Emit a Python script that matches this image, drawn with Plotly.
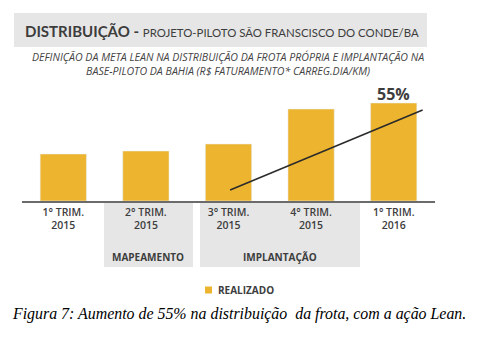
import plotly.graph_objects as go

# ---- data ----
categories = ["1° TRIM.<br>2015", "2° TRIM.<br>2015", "3° TRIM.<br>2015", "4° TRIM.<br>2015", "1° TRIM.<br>2016"]
realizado = [47, 50, 57, 92, 98]
trend_x = [2.02, 4.35]
trend_y = [11, 91]
phases = ["MAPEAMENTO", "IMPLANTAÇÃO"]
highlight = "55%"

W, H = 483, 342
L, R, T, B = 22, 48, 101, 141
PW, PH = W - L - R, H - T - B

def xp(px):
    return (px - L) / PW

def yp(py):
    return (H - B - py) / PH

BAR = "#EDB52F"
TXT = "#3d3d3d"
GRAYBG = "#E6E6E6"
SANS = "Open Sans"

fig = go.Figure()
fig.add_trace(go.Bar(x=list(range(len(realizado))), y=realizado, marker_color=BAR,
                     width=0.56, name="REALIZADO", showlegend=False))
fig.add_trace(go.Scatter(x=trend_x, y=trend_y, mode="lines",
                         line=dict(color="#2b2b2b", width=1.6), showlegend=False))

shapes = []
# title band
shapes.append(dict(type="rect", xref="paper", yref="paper", x0=xp(14), x1=xp(427), y0=yp(13), y1=yp(47),
                   fillcolor=GRAYBG, line_width=0, layer="below"))
# phase bands
shapes.append(dict(type="rect", xref="paper", yref="paper", x0=xp(104), x1=xp(193), y0=yp(202), y1=yp(267),
                   fillcolor=GRAYBG, line_width=0, layer="below"))
shapes.append(dict(type="rect", xref="paper", yref="paper", x0=xp(200), x1=xp(360), y0=yp(202), y1=yp(267),
                   fillcolor=GRAYBG, line_width=0, layer="below"))
# legend swatch
shapes.append(dict(type="rect", xref="paper", yref="paper", x0=xp(205), x1=xp(212), y0=yp(286.5), y1=yp(293.5),
                   fillcolor=BAR, line_width=0))

ann = []
ann.append(dict(xref="paper", yref="paper", x=xp(23), y=yp(31), xanchor="left", yanchor="middle",
                text="<b>DISTRIBUIÇÃO -</b> <span style='font-size:11.4px'>PROJETO-PILOTO SÃO FRANSCISCO DO CONDE/BA</span>",
                font=dict(family="Lato", size=15, color=TXT), showarrow=False))
ann.append(dict(xref="paper", yref="paper", x=xp(228), y=yp(63.5), xanchor="center", yanchor="middle",
                text="<i>DEFINIÇÃO DA META LEAN NA DISTRIBUIÇÃO DA FROTA PRÓPRIA E IMPLANTAÇÃO NA<br>BASE-PILOTO DA BAHIA (R$ FATURAMENTO* CARREG.DIA/KM)</i>",
                font=dict(family=SANS, size=10.6, color="#444444"), showarrow=False, align="center"))
ann.append(dict(x=4, y=realizado[4], xref="x", yref="y", xanchor="center", yanchor="bottom", yshift=-4,
                text="<b>" + highlight + "</b>", font=dict(family=SANS, size=16, color=TXT), showarrow=False))
ann.append(dict(xref="paper", yref="paper", x=xp(148), y=yp(257), xanchor="center", yanchor="middle",
                text="<b>" + phases[0] + "</b>", font=dict(family=SANS, size=10, color=TXT), showarrow=False))
ann.append(dict(xref="paper", yref="paper", x=xp(280), y=yp(257), xanchor="center", yanchor="middle",
                text="<b>" + phases[1] + "</b>", font=dict(family=SANS, size=10, color=TXT), showarrow=False))
ann.append(dict(xref="paper", yref="paper", x=xp(216), y=yp(290), xanchor="left", yanchor="middle",
                text="<b>REALIZADO</b>", font=dict(family=SANS, size=10, color=TXT), showarrow=False))
ann.append(dict(xref="paper", yref="paper", x=xp(239), y=yp(314), xanchor="center", yanchor="middle",
                text="<i>Figura 7: Aumento de 55% na distribuição  da frota, com a ação Lean.</i>",
                font=dict(family="Liberation Serif", size=15.9, color="#000000"), showarrow=False))

fig.update_layout(
    width=W, height=H, margin=dict(l=L, r=R, t=T, b=B, pad=0),
    paper_bgcolor="white", plot_bgcolor="white",
    shapes=shapes, annotations=ann, showlegend=False,
    xaxis=dict(range=[-0.5, 4.5], tickvals=list(range(len(categories))), ticktext=categories,
               showline=True, linecolor="#6b6b6b", linewidth=2, showgrid=False, zeroline=False,
               ticks="", tickfont=dict(family=SANS, size=10.5, color=TXT, weight=600), fixedrange=True),
    yaxis=dict(range=[0, 100], visible=False, showgrid=False, zeroline=False, fixedrange=True),
)

fig.write_html("out.html", config={"displayModeBar": False})
